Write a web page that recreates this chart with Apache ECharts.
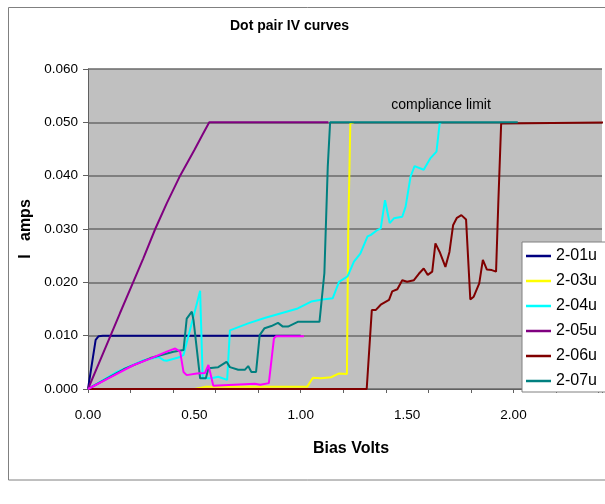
<!DOCTYPE html>
<html>
<head>
<meta charset="utf-8">
<script src="https://cdn.jsdelivr.net/npm/echarts@6/dist/echarts.min.js"></script>
<style>html,body{margin:0;padding:0;background:#fff;}#c{width:605px;height:504px;}</style>
</head>
<body>
<div id="c"></div>
<script>
// ---- data ----
const s201x = [0, 0.036, 0.05, 0.07, 1.0];
const s201y = [0, 0.0092, 0.0099, 0.0100, 0.0100];

const s203x = [0, 0.5, 0.55, 1.03, 1.057, 1.095, 1.142, 1.178, 1.217, 1.223, 1.233, 1.25];
const s203y = [0, 0, 0.0004, 0.0004, 0.0021, 0.002, 0.0022, 0.0029, 0.0028, 0.0292, 0.0498, 0.05];

const s204x = [0, 0.136, 0.262, 0.332, 0.355, 0.37, 0.433, 0.449, 0.496, 0.527, 0.539, 0.566, 0.58, 0.612, 0.654, 0.667, 0.753, 0.83, 0.908, 0.986, 1.049, 1.103, 1.15, 1.18, 1.22, 1.25, 1.28, 1.314, 1.33, 1.36, 1.376, 1.396, 1.418, 1.438, 1.477, 1.493, 1.516, 1.535, 1.578, 1.61, 1.638, 1.653, 1.66];
const s204y = [0, 0.0032, 0.0054, 0.006, 0.0054, 0.0053, 0.006, 0.0064, 0.0136, 0.0184, 0.002, 0.002, 0.002, 0.0023, 0.0017, 0.011, 0.0123, 0.0133, 0.0142, 0.0151, 0.0164, 0.0168, 0.017, 0.0201, 0.0211, 0.0239, 0.0254, 0.0286, 0.0289, 0.0298, 0.0301, 0.0354, 0.0311, 0.032, 0.0323, 0.0342, 0.0398, 0.0418, 0.0411, 0.0433, 0.0445, 0.0498, 0.05];

const s205x = [0, 0.05, 0.106, 0.15, 0.212, 0.26, 0.316, 0.37, 0.433, 0.5, 0.54, 0.57, 1.13];
const s205y = [0, 0.0047, 0.01, 0.0142, 0.02, 0.0245, 0.03, 0.0348, 0.04, 0.0448, 0.0478, 0.05, 0.05];

const s206x = [0, 1.31, 1.334, 1.352, 1.376, 1.415, 1.43, 1.454, 1.477, 1.5, 1.532, 1.555, 1.578, 1.597, 1.618, 1.633, 1.653, 1.68, 1.699, 1.716, 1.734, 1.755, 1.777, 1.797, 1.813, 1.839, 1.856, 1.875, 1.898, 1.918, 1.929, 1.942, 2.5];
const s206y = [0, 0, 0.0148, 0.0148, 0.0158, 0.0167, 0.0183, 0.0187, 0.0204, 0.0201, 0.0204, 0.0216, 0.0226, 0.0214, 0.022, 0.0273, 0.0257, 0.0229, 0.0257, 0.0307, 0.0321, 0.0326, 0.0318, 0.0168, 0.0173, 0.0198, 0.0242, 0.0224, 0.0223, 0.022, 0.0354, 0.0498, 0.05];

const s207x = [0, 0.168, 0.293, 0.402, 0.449, 0.464, 0.488, 0.496, 0.527, 0.554, 0.566, 0.612, 0.651, 0.667, 0.706, 0.737, 0.753, 0.768, 0.79, 0.807, 0.83, 0.862, 0.893, 0.916, 0.94, 0.986, 1.088, 1.111, 1.127, 1.138, 2.02];
const s207y = [0, 0.0037, 0.0058, 0.007, 0.0073, 0.0132, 0.0145, 0.0129, 0.002, 0.002, 0.0039, 0.0041, 0.0051, 0.0041, 0.0036, 0.0036, 0.0043, 0.0032, 0.0032, 0.0101, 0.0114, 0.0118, 0.0124, 0.0117, 0.0117, 0.0126, 0.0126, 0.0217, 0.0417, 0.05, 0.05];

const s208x = [0, 0.1, 0.215, 0.293, 0.37, 0.41, 0.433, 0.449, 0.464, 0.511, 0.55, 0.566, 0.589, 0.784, 0.81, 0.85, 0.874, 0.884, 1.015];
const s208y = [0, 0.0021, 0.0045, 0.0057, 0.007, 0.0076, 0.007, 0.0032, 0.0026, 0.0029, 0.003, 0.0045, 0.0006, 0.001, 0.0008, 0.0011, 0.0095, 0.0099, 0.0099];

const legendNames = ['2-01u', '2-03u', '2-04u', '2-05u', '2-06u', '2-07u'];
const seriesDefs = [
  {name: '2-01u', xs: s201x, ys: s201y, color: '#000080'},
  {name: '2-03u', xs: s203x, ys: s203y, color: '#ffff00'},
  {name: '2-04u', xs: s204x, ys: s204y, color: '#00ffff'},
  {name: '2-05u', xs: s205x, ys: s205y, color: '#800080'},
  {name: '2-06u', xs: s206x, ys: s206y, color: '#800000'},
  {name: '2-07u', xs: s207x, ys: s207y, color: '#008080'},
  {name: '2-08u', xs: s208x, ys: s208y, color: '#ff00ff'}
];

const xLabelStep = 0.5;
const xTickStep = 0.2;
const xMax = 2.416;
const yStep = 0.01;

const FONT = 'Liberation Sans, Arial, sans-serif';
const chart = echarts.init(document.getElementById('c'), null, {renderer: 'canvas'});

const option = {
  animation: false,
  backgroundColor: '#ffffff',
  title: {
    text: 'Dot pair IV curves',
    left: 230, top: 19, padding: 0,
    textStyle: {fontFamily: FONT, fontSize: 14, fontWeight: 'bold', color: '#000'}
  },
  grid: {
    left: 88, top: 69, right: 0, bottom: 115,
    show: true, backgroundColor: '#c0c0c0', borderWidth: 0
  },
  legend: {
    data: legendNames,
    orient: 'vertical',
    left: 522, top: 242,
    padding: [5, 40, 2, 4],
    itemWidth: 25, itemHeight: 2.5, itemGap: 7,
    icon: 'rect',
    backgroundColor: '#ffffff',
    borderColor: '#808080', borderWidth: 1,
    textStyle: {fontFamily: FONT, fontSize: 16, color: '#000', lineHeight: 18}
  },
  xAxis: [
    {
      type: 'value', min: 0, max: xMax, interval: xLabelStep,
      name: 'Bias Volts', nameLocation: 'middle', nameGap: 52,
      nameTextStyle: {fontFamily: FONT, fontSize: 16, fontWeight: 'bold', color: '#000', padding: [0, 0, 0, 12]},
      axisLine: {show: true, lineStyle: {color: '#606060', width: 1}},
      axisTick: {show: false},
      splitLine: {show: false},
      axisLabel: {
        fontFamily: FONT, fontSize: 13.5, color: '#000', margin: 19,
        formatter: v => (Math.abs(v / xLabelStep - Math.round(v / xLabelStep)) < 1e-6 ? v.toFixed(2) : '')
      }
    },
    {
      type: 'value', min: 0, max: xMax, interval: xTickStep, position: 'bottom',
      axisLine: {show: false},
      axisTick: {show: true, length: 4, lineStyle: {color: '#606060', width: 1}},
      axisLabel: {show: false},
      splitLine: {show: false}
    }
  ],
  yAxis: {
    type: 'value', min: 0, max: 0.06, interval: yStep,
    name: 'I   amps', nameLocation: 'middle', nameGap: 54, nameRotate: 90,
    nameTextStyle: {fontFamily: FONT, fontSize: 16, fontWeight: 'bold', color: '#000'},
    axisLine: {show: true, lineStyle: {color: '#606060', width: 1}},
    axisTick: {show: true, length: 5, lineStyle: {color: '#606060'}},
    splitLine: {show: true, lineStyle: {color: '#6a6a6a', width: 1.5}},
    axisLabel: {fontFamily: FONT, fontSize: 13.5, color: '#000', margin: 10, formatter: v => v.toFixed(3)}
  },
  graphic: [
    {type: 'rect', shape: {x: 8.5, y: 7.5, width: 700, height: 472.5}, style: {fill: 'none', stroke: '#808080', lineWidth: 1}, z: -1, silent: true},
    {type: 'text', x: 441, y: 105, style: {text: 'compliance limit', font: '14px ' + FONT, fill: '#000', textAlign: 'center', textVerticalAlign: 'middle'}, z: 10}
  ],
  series: seriesDefs.map(s => ({
    name: s.name,
    type: 'line',
    xAxisIndex: 0,
    data: s.xs.map((x, i) => [x, s.ys[i]]),
    showSymbol: false,
    symbol: 'none',
    clip: true,
    color: s.color,
    lineStyle: {color: s.color, width: 2},
    emphasis: {disabled: true}
  }))
};
chart.setOption(option);
</script>
</body>
</html>
